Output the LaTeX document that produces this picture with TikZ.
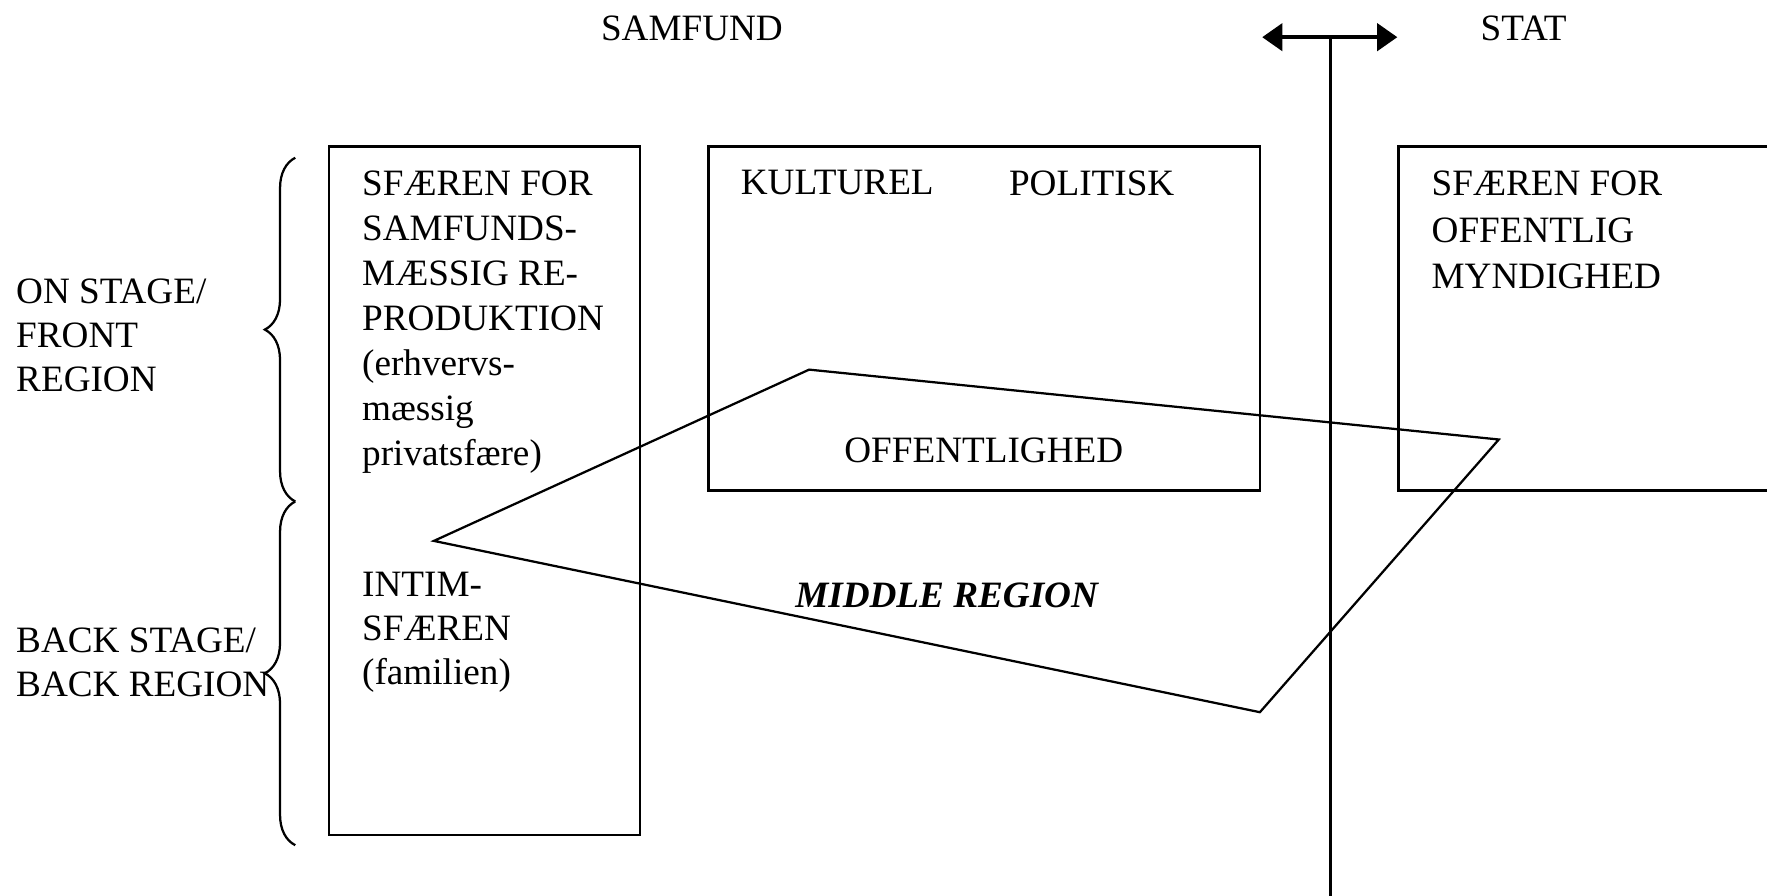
\documentclass[tikz,border=0pt]{standalone}
\usepackage{fontspec}
\setmainfont{Liberation Serif}
\usepackage{tikz}
\usetikzlibrary{arrows.meta,decorations.pathreplacing}
\tikzstyle{arrow} = [line width=2pt,<->,>={Triangle[length=9pt,width=12pt]}]
\tikzstyle{box} = [line width=1.2pt]
\tikzstyle{label} = [inner sep=0pt,align=left]
\tikzstyle{wide} = [font={\fontsize{16.5}{20}\selectfont}]
\tikzstyle{curly} = [line width=1pt,decorate,decoration={brace,amplitude=13.5pt}]

\begin{document}
\begin{tikzpicture}[x=0.5pt,y=-0.5pt,font={\fontsize{16.5}{19.5}\selectfont}]
	\useasboundingbox (0,0) rectangle (1568,795);
	
	\node[label] (samfund) at (614,25) {SAMFUND};
	\node[label] (stat) at (1352,25) {STAT};
	
	\coordinate (al) at (1120,33);
	\coordinate (ar) at (1240,33);
	\coordinate (vt) at (1181,33);
	\coordinate (vb) at (1181,795);
	\draw[arrow] (al) -- (ar);
	\draw[line width=1.3pt] (vt) -- (vb);
	
	\draw[box] (292,130) rectangle (568,741);
	\draw[box] (629,130) rectangle (1118,435);
	\draw[box] (1568,130) -| (1241,435) -- (1568,435);
	
	\node[label,wide,anchor=north west] (repro) at (321,151) {SFÆREN FOR\\SAMFUNDS-\\MÆSSIG RE-\\PRODUKTION\\(erhvervs-\\mæssig\\privatsfære)};
	\node[label,anchor=north west] (intim) at (321,507) {INTIM-\\SFÆREN\\(familien)};
	\node[label,anchor=north west] (kultur) at (657,151) {KULTUREL};
	\node[label,anchor=north west] (politik) at (895,151) {POLITISK};
	\node[label] (offentlig) at (873,400) {OFFENTLIGHED};
	\node[label,anchor=north west,font={\fontsize{16.5}{20.8}\selectfont}] (myndig) at (1270,151) {SFÆREN FOR\\OFFENTLIG\\MYNDIGHED};
	\node[label,font={\fontsize{16.5}{19.5}\selectfont\bfseries\itshape}] (middle) at (840,528) {MIDDLE REGION};
	
	\node[label,anchor=north west] (front) at (14,247) {ON STAGE/\\FRONT\\REGION};
	\node[label,anchor=north west] (back) at (14,557) {BACK STAGE/\\BACK REGION};
	
	\coordinate (b1) at (262,140);
	\coordinate (b2) at (262,445);
	\coordinate (b3) at (262,750);
	\draw[curly] (b2) -- (b1);
	\draw[curly] (b3) -- (b2);
	
	\coordinate (p1) at (385,480);
	\coordinate (p2) at (718,328);
	\coordinate (p3) at (1330,390);
	\coordinate (p4) at (1118,632);
	\draw[line width=1pt] (p1) -- (p2) -- (p3) -- (p4) -- cycle;
\end{tikzpicture}
\end{document}
